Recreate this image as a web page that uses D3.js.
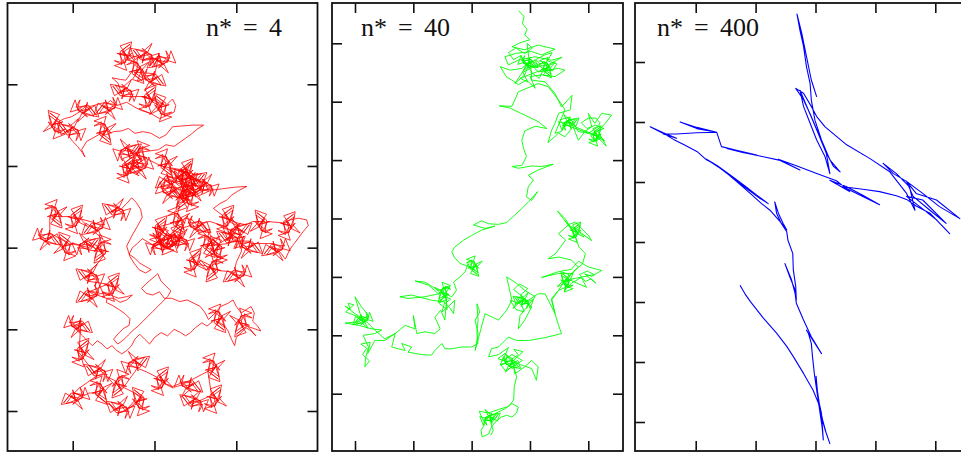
<!DOCTYPE html>
<html><head><meta charset="utf-8">
<script src="https://cdn.jsdelivr.net/npm/d3@7"></script>
<style>body{margin:0;background:#fff}svg{display:block}</style>
</head><body>
<svg id="chart" width="961" height="452"></svg>
<script>
// ---- data ----
const labelSymbol = "n*";
const labelValues = ["4", "40", "400"];
const lineColors = ["#ff0000", "#00ff00", "#0000ff"];
const xTicks1 = [100, 200, 300];
const yTicks1 = [100, 200, 300, 400, 500];
const xTicks2 = [100, 200, 300, 400, 500];
const yTicks2 = [100, 200, 300, 400, 500, 600, 700];
const xTicks3 = [100, 200, 300, 400, 500];
const yTicks3 = [100, 200, 300, 400, 500, 600, 700];

// trajectory n* = 4 (red)
const walkRed = [
[160,62],[171,54],[166,68],[178,74],[169,64],[172,48],[158,53],[166,65],[154,62],[168,66],[163,74],[172,62],[162,70],[166,83],[151,77],[165,73],[162,59],[168,68],[160,59],[170,51],[158,60],[160,76],[151,71],[162,74],[157,62],
[185,68],[177,57],[191,62],[197,50],[187,59],[171,56],[176,70],[188,62],[185,74],[189,60],[197,65],[185,56],[193,66],[206,62],[200,77],[196,63],[182,66],[191,60],[182,68],[174,58],[183,70],[199,68],[194,77],[197,66],[185,71],
[205,68],[197,79],[211,74],[217,86],[207,77],[191,80],[196,66],[208,74],[205,62],[209,76],[217,71],[205,80],[213,70],[226,74],[220,59],[216,73],[202,70],[211,76],[202,68],[194,78],[203,66],[219,68],[214,59],[217,70],[205,65],
[200,90],[208,101],[194,96],[188,108],[198,99],[214,102],[209,88],[197,96],[200,84],[196,98],[188,93],[200,102],[192,92],[179,96],[185,81],[189,95],[203,92],[194,98],[203,90],[211,100],[202,88],[186,90],[191,81],[188,92],[200,87],
[175,85],[186,93],[181,79],[193,73],[184,83],[187,99],[173,94],[181,82],[169,85],[183,81],[178,73],[187,85],[177,77],[181,64],[166,70],[180,74],[177,88],[183,79],[175,88],[185,96],[173,87],[175,71],[166,76],[177,73],[172,85],
[165,95],[158,94],[148,92],[155,98],
[160,112],[152,101],[166,106],[172,94],[162,103],[146,100],[151,114],[163,106],[160,118],[164,104],[172,109],[160,100],[168,110],[181,106],[175,121],[171,107],[157,110],[166,104],[157,112],[149,102],[158,114],[174,112],[169,121],[172,110],[160,115],
[190,115],[201,107],[196,121],[208,127],[199,117],[202,101],[188,106],[196,118],[184,115],[198,119],[193,127],[202,115],[192,123],[196,136],[181,130],[195,126],[192,112],[198,121],[190,112],[200,104],[188,113],[190,129],[181,124],[192,127],[187,115],
[212,125],[201,117],[206,131],[194,137],[203,127],[200,111],[214,116],[206,128],[218,125],[204,129],[209,137],[200,125],[210,133],[206,146],[221,140],[207,136],[210,122],[204,131],[212,122],[202,114],[214,123],[212,139],[221,134],[210,137],[215,125],
[222,118],[226,126],[224,134],[216,138],[206,142],[196,136],[184,132],[176,128],[166,122],[154,126],[146,120],
[140,125],[132,136],[146,131],[152,143],[142,134],[126,137],[131,123],[143,131],[140,119],[144,133],[152,128],[140,137],[148,127],[161,131],[155,116],[151,130],[137,127],[146,133],[137,125],[129,135],[138,123],[154,125],[149,116],[152,127],[140,122],
[118,128],[126,139],[112,134],[106,146],[116,137],[132,140],[127,126],[115,134],[118,122],[114,136],[106,131],[118,140],[110,130],[97,134],[103,119],[107,133],[121,130],[112,136],[121,128],[129,138],[120,126],[104,128],[109,119],[106,130],[118,125],
[108,134],[98,140],[90,142],
[82,146],[71,138],[76,152],[64,158],[73,148],[70,132],[84,137],[76,149],[88,146],[74,150],[79,158],[70,146],[80,154],[76,167],[91,161],[77,157],[80,143],[74,152],[82,143],[72,135],[84,144],[82,160],[91,155],[80,158],[85,146],
[95,160],[87,149],[101,154],[107,142],[97,151],[81,148],[86,162],[98,154],[95,166],[99,152],[107,157],[95,148],[103,158],[116,154],[110,169],[106,155],[92,158],[101,152],[92,160],[84,150],[93,162],[109,160],[104,169],[107,158],[95,163],
[100,170],[106,176],[112,184],[115,189],[111,180],[117,170],
[135,160],[146,168],[141,154],[153,148],[144,158],[147,174],[133,169],[141,157],[129,160],[143,156],[138,148],[147,160],[137,152],[141,139],[126,145],[140,149],[137,163],[143,154],[135,163],[145,171],[133,162],[135,146],[126,151],[137,148],[132,160],
[140,162],[150,158],[160,157],[168,154],[176,160],[186,158],[196,160],[206,166],[214,162],[222,152],[234,151],[246,150],[260,150],[252,155],[245,161],[238,166],[231,171],[224,176],[214,174],[205,180],
[170,185],[178,174],[164,179],[158,167],[168,176],[184,173],[179,187],[167,179],[170,191],[166,177],[158,182],[170,173],[162,183],[149,179],[155,194],[159,180],[173,183],[164,177],[173,185],[181,175],[172,187],[156,185],[161,194],[158,183],[170,188],
[178,198],[170,209],[184,204],[190,216],[180,207],[164,210],[169,196],[181,204],[178,192],[182,206],[190,201],[178,210],[186,200],[199,204],[193,189],[189,203],[175,200],[184,206],[175,198],[167,208],[176,196],[192,198],[187,189],[190,200],[178,195],
[163,200],[174,192],[169,206],[181,212],[172,202],[175,186],[161,191],[169,203],[157,200],[171,204],[166,212],[175,200],[165,208],[169,221],[154,215],[168,211],[165,197],[171,206],[163,197],[173,189],[161,198],[163,214],[154,209],[165,212],[160,200],
[185,190],[174,198],[179,184],[167,178],[176,188],[173,204],[187,199],[179,187],[191,190],[177,186],[182,178],[173,190],[183,182],[179,169],[194,175],[180,179],[183,193],[177,184],[185,193],[175,201],[187,192],[185,176],[194,181],[183,178],[188,190],
[196,194],[204,198],
[210,200],[221,208],[216,194],[228,188],[219,198],[222,214],[208,209],[216,197],[204,200],[218,196],[213,188],[222,200],[212,192],[216,179],[201,185],[215,189],[212,203],[218,194],[210,203],[220,211],[208,202],[210,186],[201,191],[212,188],[207,200],
[235,205],[246,197],[241,211],[253,217],[244,207],[247,191],[233,196],[241,208],[229,205],[243,209],[238,217],[247,205],[237,213],[241,226],[226,220],[240,216],[237,202],[243,211],[235,202],[245,194],[233,203],[235,219],[226,214],[237,217],[232,205],
[250,220],[258,209],[244,214],[238,202],[248,211],[264,208],[259,222],[247,214],[250,226],[246,212],[238,217],[250,208],[242,218],[229,214],[235,229],[239,215],[253,218],[244,212],[253,220],[261,210],[252,222],[236,220],[241,229],[238,218],[250,223],
[222,228],[230,239],[216,234],[210,246],[220,237],[236,240],[231,226],[219,234],[222,222],[218,236],[210,231],[222,240],[214,230],[201,234],[207,219],[211,233],[225,230],[216,236],[225,228],[233,238],[224,226],[208,228],[213,219],[210,230],[222,225],
[245,235],[234,227],[239,241],[227,247],[236,237],[233,221],[247,226],[239,238],[251,235],[237,239],[242,247],[233,235],[243,243],[239,256],[254,250],[240,246],[243,232],[237,241],[245,232],[235,224],[247,233],[245,249],[254,244],[243,247],[248,235],
[258,228],[250,217],[264,222],[270,210],[260,219],[244,216],[249,230],[261,222],[258,234],[262,220],[270,225],[258,216],[266,226],[279,222],[273,237],[269,223],[255,226],[264,220],[255,228],[247,218],[256,230],[272,228],[267,237],[270,226],[258,231],
[250,236],[240,230],[230,224],[222,218],
[215,215],[207,226],[221,221],[227,233],[217,224],[201,227],[206,213],[218,221],[215,209],[219,223],[227,218],[215,227],[223,217],[236,221],[230,206],[226,220],[212,217],[221,223],[212,215],[204,225],[213,213],[229,215],[224,206],[227,217],[215,212],
[222,222],[232,232],
[238,242],[227,250],[232,236],[220,230],[229,240],[226,256],[240,251],[232,239],[244,242],[230,238],[235,230],[226,242],[236,234],[232,221],[247,227],[233,231],[236,245],[230,236],[238,245],[228,253],[240,244],[238,228],[247,233],[236,230],[241,242],
[232,215],[224,204],[238,209],[244,197],[234,206],[218,203],[223,217],[235,209],[232,221],[236,207],[244,212],[232,203],[240,213],[253,209],[247,224],[243,210],[229,213],[238,207],[229,215],[221,205],[230,217],[246,215],[241,224],[244,213],[232,218],
[245,225],[237,236],[251,231],[257,243],[247,234],[231,237],[236,223],[248,231],[245,219],[249,233],[257,228],[245,237],[253,227],[266,231],[260,216],[256,230],[242,227],[251,233],[242,225],[234,235],[243,223],[259,225],[254,216],[257,227],[245,222],
[250,238],[260,234],[268,230],[282,228],[298,226],[313,225],[303,230],[294,236],[288,242],[280,246],[272,252],
[285,262],[296,254],[291,268],[303,274],[294,264],[297,248],[283,253],[291,265],[279,262],[293,266],[288,274],[297,262],[287,270],[291,283],[276,277],[290,273],[287,259],[293,268],[285,259],[295,251],[283,260],[285,276],[276,271],[287,274],[282,262],
[292,266],[302,270],[312,272],[320,268],
[335,268],[324,260],[329,274],[317,280],[326,270],[323,254],[337,259],[329,271],[341,268],[327,272],[332,280],[323,268],[333,276],[329,289],[344,283],[330,279],[333,265],[327,274],[335,265],[325,257],[337,266],[335,282],[344,277],[333,280],[338,268],
[360,270],[371,262],[366,276],[378,282],[369,272],[372,256],[358,261],[366,273],[354,270],[368,274],[363,282],[372,270],[362,278],[366,291],[351,285],[365,281],[362,267],[368,276],[360,267],[370,259],[358,268],[360,284],[351,279],[362,282],[357,270],
[366,266],[376,264],[386,266],[388,273],[382,280],[376,288],[370,296],[365,303],[360,314],[354,306],
[345,298],[337,309],[351,304],[357,316],[347,307],[331,310],[336,296],[348,304],[345,292],[349,306],[357,301],[345,310],[353,300],[366,304],[360,289],[356,303],[342,300],[351,306],[342,298],[334,308],[343,296],[359,298],[354,289],[357,300],[345,295],
[318,295],[326,306],[312,301],[306,313],[316,304],[332,307],[327,293],[315,301],[318,289],[314,303],[306,298],[318,307],[310,297],[297,301],[303,286],[307,300],[321,297],[312,303],[321,295],[329,305],[320,293],[304,295],[309,286],[306,297],[318,292],
[290,292],[282,281],[296,286],[302,274],[292,283],[276,280],[281,294],[293,286],[290,298],[294,284],[302,289],[290,280],[298,290],[311,286],[305,301],[301,287],[287,290],[296,284],[287,292],[279,282],[288,294],[304,292],[299,301],[302,290],[290,295],
[262,298],[273,306],[268,292],[280,286],[271,296],[274,312],[260,307],[268,295],[256,298],[270,294],[265,286],[274,298],[264,290],[268,277],[253,283],[267,287],[264,301],[270,292],[262,301],[272,309],[260,300],[262,284],[253,289],[264,286],[259,298],
[245,315],[256,307],[251,321],[263,327],[254,317],[257,301],[243,306],[251,318],[239,315],[253,319],[248,327],[257,315],[247,323],[251,336],[236,330],[250,326],[247,312],[253,321],[245,312],[255,304],[243,313],[245,329],[236,324],[247,327],[242,315],
[250,320],[262,322],
[275,328],[264,336],[269,322],[257,316],[266,326],[263,342],[277,337],[269,325],[281,328],[267,324],[272,316],[263,328],[273,320],[269,307],[284,313],[270,317],[273,331],[267,322],[275,331],[265,339],[277,330],[275,314],[284,319],[273,316],[278,328],
[298,330],[290,341],[304,336],[310,348],[300,339],[284,342],[289,328],[301,336],[298,324],[302,338],[310,333],[298,342],[306,332],[319,336],[313,321],[309,335],[295,332],[304,338],[295,330],[287,340],[296,328],[312,330],[307,321],[310,332],[298,327],
[300,318],[306,305],[308,292],
[305,282],[313,271],[299,276],[293,264],[303,273],[319,270],[314,284],[302,276],[305,288],[301,274],[293,279],[305,270],[297,280],[284,276],[290,291],[294,277],[308,280],[299,274],[308,282],[316,272],[307,284],[291,282],[296,291],[293,280],[305,285],
[292,278],[280,272],[268,268],
[255,270],[263,281],[249,276],[243,288],[253,279],[269,282],[264,268],[252,276],[255,264],[251,278],[243,273],[255,282],[247,272],[234,276],[240,261],[244,275],[258,272],[249,278],[258,270],[266,280],[257,268],[241,270],[246,261],[243,272],[255,267],
[280,300],[269,292],[274,306],[262,312],[271,302],[268,286],[282,291],[274,303],[286,300],[272,304],[277,312],[268,300],[278,308],[274,321],[289,315],[275,311],[278,297],[272,306],[280,297],[270,289],[282,298],[280,314],[289,309],[278,312],[283,300],
[262,284],[246,266],[238,264],
[225,270],[236,278],[231,264],[243,258],[234,268],[237,284],[223,279],[231,267],[219,270],[233,266],[228,258],[237,270],[227,262],[231,249],[216,255],[230,259],[227,273],[233,264],[225,273],[235,281],[223,272],[225,256],[216,261],[227,258],[222,270],
[203,275],[214,267],[209,281],[221,287],[212,277],[215,261],[201,266],[209,278],[197,275],[211,279],[206,287],[215,275],[205,283],[209,296],[194,290],[208,286],[205,272],[211,281],[203,272],[213,264],[201,273],[203,289],[194,284],[205,287],[200,275],
[210,300],[218,289],[204,294],[198,282],[208,291],[224,288],[219,302],[207,294],[210,306],[206,292],[198,297],[210,288],[202,298],[189,294],[195,309],[199,295],[213,298],[204,292],[213,300],[221,290],[212,302],[196,300],[201,309],[198,298],[210,303],
[228,295],[220,284],[234,289],[240,277],[230,286],[214,283],[219,297],[231,289],[228,301],[232,287],[240,292],[228,283],[236,293],[249,289],[243,304],[239,290],[225,293],[234,287],[225,295],[217,285],[226,297],[242,295],[237,304],[240,293],[228,298],
[215,288],[204,280],[209,294],[197,300],[206,290],[203,274],[217,279],[209,291],[221,288],[207,292],[212,300],[203,288],[213,296],[209,309],[224,303],[210,299],[213,285],[207,294],[215,285],[205,277],[217,286],[215,302],[224,297],[213,300],[218,288],
[222,285],[233,277],[228,291],[240,297],[231,287],[234,271],[220,276],[228,288],[216,285],[230,289],[225,297],[234,285],[224,293],[228,306],[213,300],[227,296],[224,282],[230,291],[222,282],[232,274],[220,283],[222,299],[213,294],[224,297],[219,285],
[210,294],[200,298],[192,293],[185,289],[179,295],[173,300],[169,308],[176,313],[182,319],[189,323],[196,327],[189,331],[181,327],[175,319],[170,311],[166,298],[172,286],[179,274],[185,263],[183,253],[178,245],[172,239],[166,246],[160,252],
[150,258],[142,247],[156,252],[162,240],[152,249],[136,246],[141,260],[153,252],[150,264],[154,250],[162,255],[150,246],[158,256],[171,252],[165,267],[161,253],[147,256],[156,250],[147,258],[139,248],[148,260],[164,258],[159,267],[162,256],[150,261],
[125,272],[117,283],[131,278],[137,290],[127,281],[111,284],[116,270],[128,278],[125,266],[129,280],[137,275],[125,284],[133,274],[146,278],[140,263],[136,277],[122,274],[131,280],[122,272],[114,282],[123,270],[139,272],[134,263],[137,274],[125,269],
[100,262],[111,254],[106,268],[118,274],[109,264],[112,248],[98,253],[106,265],[94,262],[108,266],[103,274],[112,262],[102,270],[106,283],[91,277],[105,273],[102,259],[108,268],[100,259],[110,251],[98,260],[100,276],[91,271],[102,274],[97,262],
[75,262],[86,270],[81,256],[93,250],[84,260],[87,276],[73,271],[81,259],[69,262],[83,258],[78,250],[87,262],[77,254],[81,241],[66,247],[80,251],[77,265],[83,256],[75,265],[85,273],[73,264],[75,248],[66,253],[77,250],[72,262],
[72,285],[80,296],[66,291],[60,303],[70,294],[86,297],[81,283],[69,291],[72,279],[68,293],[60,288],[72,297],[64,287],[51,291],[57,276],[61,290],[75,287],[66,293],[75,285],[83,295],[74,283],[58,285],[63,276],[60,287],[72,282],
[95,295],[84,287],[89,301],[77,307],[86,297],[83,281],[97,286],[89,298],[101,295],[87,299],[92,307],[83,295],[93,303],[89,316],[104,310],[90,306],[93,292],[87,301],[95,292],[85,284],[97,293],[95,309],[104,304],[93,307],[98,295],
[120,300],[128,289],[114,294],[108,282],[118,291],[134,288],[129,302],[117,294],[120,306],[116,292],[108,297],[120,288],[112,298],[99,294],[105,309],[109,295],[123,298],[114,292],[123,300],[131,290],[122,302],[106,300],[111,309],[108,298],[120,303],
[138,305],[127,313],[132,299],[120,293],[129,303],[126,319],[140,314],[132,302],[144,305],[130,301],[135,293],[126,305],[136,297],[132,284],[147,290],[133,294],[136,308],[130,299],[138,308],[128,316],[140,307],[138,291],[147,296],[136,293],[141,305],
[136,312],[130,320],[124,326],
[118,338],[110,327],[124,332],[130,320],[120,329],[104,326],[109,340],[121,332],[118,344],[122,330],[130,335],[118,326],[126,336],[139,332],[133,347],[129,333],[115,336],[124,330],[115,338],[107,328],[116,340],[132,338],[127,347],[130,336],[118,341],
[145,345],[156,337],[151,351],[163,357],[154,347],[157,331],[143,336],[151,348],[139,345],[153,349],[148,357],[157,345],[147,353],[151,366],[136,360],[150,356],[147,342],[153,351],[145,342],[155,334],[143,343],[145,359],[136,354],[147,357],[142,345],
[118,355],[110,366],[124,361],[130,373],[120,364],[104,367],[109,353],[121,361],[118,349],[122,363],[130,358],[118,367],[126,357],[139,361],[133,346],[129,360],[115,357],[124,363],[115,355],[107,365],[116,353],[132,355],[127,346],[130,357],[118,352],
[126,358],[136,356],[146,358],[156,362],[166,360],[173,358],[166,364],[158,367],[150,362],[142,362],[141,367],[149,371],[157,376],[164,381],[170,387],[169,395],[162,399],[156,405],[150,412],[155,418],[162,413],[168,407],[174,401],
[180,396],[186,390],[192,384],[198,378],[204,372],[210,366],[216,360],[220,353],[214,347],[208,341],[204,332],[197,338],[190,344],[184,350],[190,356],[198,358],[206,354],[212,362],[221,362],[231,366],[240,364],[248,368],[256,372],[262,380],[266,388],[270,384],[276,378],[281,372],[290,368],[296,364],[300,372],[306,380],[312,376],[318,372],[322,380],[320,390],[326,396],[330,402],
[310,395],[299,403],[304,389],[292,383],[301,393],[298,409],[312,404],[304,392],[316,395],[302,391],[307,383],[298,395],[308,387],[304,374],[319,380],[305,384],[308,398],[302,389],[310,398],[300,406],[312,397],[310,381],[319,386],[308,383],[313,395],
[324,408],[318,402],[312,398],[306,404],[300,410],[298,420],[294,412],[290,402],[286,396],[280,392],
[275,390],[286,398],[281,384],[293,378],[284,388],[287,404],[273,399],[281,387],[269,390],[283,386],[278,378],[287,390],[277,382],[281,369],[266,375],[280,379],[277,393],[283,384],[275,393],[285,401],[273,392],[275,376],[266,381],[277,378],[272,390],
[264,396],[258,392],[250,398],[244,404],[238,408],[232,404],
[224,400],[216,408],[208,404],[200,410],[194,418],[188,412],[182,406],[176,412],[172,420],[166,426],[160,430],[154,426],[148,420],[142,424],[136,418],[130,414],[124,420],[118,414],[112,408],[106,402],[100,396],
[110,392],[118,403],[104,398],[98,410],[108,401],[124,404],[119,390],[107,398],[110,386],[106,400],[98,395],[110,404],[102,394],[89,398],[95,383],[99,397],[113,394],[104,400],[113,392],[121,402],[112,390],[96,392],[101,383],[98,394],[110,389],
[108,425],[119,417],[114,431],[126,437],[117,427],[120,411],[106,416],[114,428],[102,425],[116,429],[111,437],[120,425],[110,433],[114,446],[99,440],[113,436],[110,422],[116,431],[108,422],[118,414],[106,423],[108,439],[99,434],[110,437],[105,425],
[128,455],[120,444],[134,449],[140,437],[130,446],[114,443],[119,457],[131,449],[128,461],[132,447],[140,452],[128,443],[136,453],[149,449],[143,464],[139,450],[125,453],[134,447],[125,455],[117,445],[126,457],[142,455],[137,464],[140,453],[128,458],
[118,465],[108,472],
[100,480],[92,491],[106,486],[112,498],[102,489],[86,492],[91,478],[103,486],[100,474],[104,488],[112,483],[100,492],[108,482],[121,486],[115,471],[111,485],[97,482],[106,488],[97,480],[89,490],[98,478],[114,480],[109,471],[112,482],[100,477],
[112,482],[120,478],
[130,478],[141,486],[136,472],[148,466],[139,476],[142,492],[128,487],[136,475],[124,478],[138,474],[133,466],[142,478],[132,470],[136,457],[121,463],[135,467],[132,481],[138,472],[130,481],[140,489],[128,480],[130,464],[121,469],[132,466],[127,478],
[138,488],[148,494],
[155,500],[147,489],[161,494],[167,482],[157,491],[141,488],[146,502],[158,494],[155,506],[159,492],[167,497],[155,488],[163,498],[176,494],[170,509],[166,495],[152,498],[161,492],[152,500],[144,490],[153,502],[169,500],[164,509],[167,498],[155,503],
[168,498],[176,490],
[185,485],[174,477],[179,491],[167,497],[176,487],[173,471],[187,476],[179,488],[191,485],[177,489],[182,497],[173,485],[183,493],[179,506],[194,500],[180,496],[183,482],[177,491],[185,482],[175,474],[187,483],[185,499],[194,494],[183,497],[188,485],
[176,478],[168,474],
[160,470],[149,478],[154,464],[142,458],[151,468],[148,484],[162,479],[154,467],[166,470],[152,466],[157,458],[148,470],[158,462],[154,449],[169,455],[155,459],[158,473],[152,464],[160,473],[150,481],[162,472],[160,456],[169,461],[158,458],[163,470],
[170,460],[176,452],
[180,445],[188,434],[174,439],[168,427],[178,436],[194,433],[189,447],[177,439],[180,451],[176,437],[168,442],[180,433],[172,443],[159,439],[165,454],[169,440],[183,443],[174,437],[183,445],[191,435],[182,447],[166,445],[171,454],[168,443],[180,448],
[190,452],[198,456],
[205,460],[216,452],[211,466],[223,472],[214,462],[217,446],[203,451],[211,463],[199,460],[213,464],[208,472],[217,460],[207,468],[211,481],[196,475],[210,471],[207,457],[213,466],[205,457],[215,449],[203,458],[205,474],[196,469],[207,472],[202,460],
[212,466],[222,470],[232,466],
[245,465],[253,476],[239,471],[233,483],[243,474],[259,477],[254,463],[242,471],[245,459],[241,473],[233,468],[245,477],[237,467],[224,471],[230,456],[234,470],[248,467],[239,473],[248,465],[256,475],[247,463],[231,465],[236,456],[233,467],[245,462],
[268,450],[279,458],[274,444],[286,438],[277,448],[280,464],[266,459],[274,447],[262,450],[276,446],[271,438],[280,450],[270,442],[274,429],[259,435],[273,439],[270,453],[276,444],[268,453],[278,461],[266,452],[268,436],[259,441],[270,438],[265,450],
[270,482],[281,474],[276,488],[288,494],[279,484],[282,468],[268,473],[276,485],[264,482],[278,486],[273,494],[282,482],[272,490],[276,503],[261,497],[275,493],[272,479],[278,488],[270,479],[280,471],[268,480],[270,496],[261,491],[272,494],[267,482],
[245,492],[237,481],[251,486],[257,474],[247,483],[231,480],[236,494],[248,486],[245,498],[249,484],[257,489],[245,480],[253,490],[266,486],[260,501],[256,487],[242,490],[251,484],[242,492],[234,482],[243,494],[259,492],[254,501],[257,490],[245,495]
];

// trajectory n* = 40 (green)
const walkGreen = [
[380,44],[390,54],[387,66],[395,76],[391,86],[400,94],[383,99],[369,106],[391,111],[414,103],[443,110],[420,120],[403,114],[377,117],[357,123],[363,137],[380,129],[409,123],[437,129],[455,124],[431,137],[409,140],[397,131],[414,149],[449,143],[460,146],[443,157],[420,154],[400,157],[409,177],[394,163],[380,171],[369,163],[360,158],[349,140],[366,146],[386,143],[400,131],[391,154],[374,169],
[400,130],[408,141],[394,136],[388,148],[398,139],[414,142],[409,128],[397,136],[400,124],[396,138],[388,133],[400,142],[392,132],[379,136],[385,121],[389,135],[403,132],[394,138],[403,130],[411,140],[402,128],[386,130],[391,121],[388,132],[400,127],
[425,145],[436,153],[431,139],[443,133],[434,143],[437,159],[423,154],[431,142],[419,145],[433,141],[428,133],[437,145],[427,137],[431,124],[416,130],[430,134],[427,148],[433,139],[425,148],[435,156],[423,147],[425,131],[416,136],[427,133],[422,145],
[383,160],[396,166],[388,150],[402,142],[418,136],[410,128],[425,120],[438,116],[430,130],[446,135],[439,147],[423,145],[416,160],[405,152],[395,138],[384,121],[372,128],[363,116],[376,108],[391,118],[404,108],[395,100],[398,125],[402,145],
[403,163],[426,166],[443,186],[454,209],[472,189],[469,214],[449,220],[443,237],[437,249],[431,270],[449,254],[460,260],[474,243],[483,266],[494,251],[506,243],[500,220],[511,237],[523,220],[540,223],[529,237],[517,251],[531,276],
[510,255],[521,247],[516,261],[528,267],[519,257],[522,241],[508,246],[516,258],[504,255],[518,259],[513,267],[522,255],[512,263],[516,276],[501,270],[515,266],[512,252],[518,261],[510,252],[520,244],[508,253],[510,269],[501,264],[512,267],[507,255],
[470,240],[478,229],[464,234],[458,222],[468,231],[484,228],[479,242],[467,234],[470,246],[466,232],[458,237],[470,228],[462,238],[449,234],[455,249],[459,235],[473,238],[464,232],[473,240],[481,230],[472,242],[456,240],[461,249],[458,238],[470,243],
[522,262],[512,268],[504,258],[516,250],[527,246],[512,240],[498,246],[488,236],[500,228],[513,228],[520,236],[517,243],[500,254],[483,251],[471,231],[460,243],[451,231],[469,226],[454,251],[443,254],[460,214],[449,197],[431,174],[414,169],
[380,183],[374,197],[369,208],[347,207],[366,211],[391,223],[414,234],[429,246],[409,242],[391,250],[386,266],[389,280],[394,294],
[386,309],[369,311],[380,314],[403,310],[420,311],[440,307],[414,317],[397,326],[406,334],[397,346],[394,363],[403,369],[413,354],[398,371],[386,383],[374,394],[360,407],[346,410],[329,409],[317,404],[303,411],[323,417],[340,413],[317,420],[300,429],[286,437],[271,449],[266,457],[270,466],[280,477],[289,480],[297,483],[306,489],
[300,485],[311,493],[306,479],[318,473],[309,483],[312,499],[298,494],[306,482],[294,485],[308,481],[303,473],[312,485],[302,477],[306,464],[291,470],[305,474],[302,488],[308,479],[300,488],[310,496],[298,487],[300,471],[291,476],[302,473],[297,485],
[294,477],[289,491],
[280,500],[269,509],[274,523],[266,534],[254,529],[263,517],[243,523],[220,509],[203,507],[226,514],[243,529],[220,534],[191,537],[177,534],[197,531],[231,540],[254,543],[249,560],[260,551],[271,540],[269,563],[262,552],[255,545],[264,538],[252,533],[245,546],[258,556],
[255,530],[244,538],[249,524],[237,518],[246,528],[243,544],[257,539],[249,527],[261,530],[247,526],[252,518],[243,530],[253,522],[249,509],[264,515],[250,519],[253,533],[247,524],[255,533],[245,541],[257,532],[255,516],[264,521],[253,518],[258,530],
[254,574],[247,557],[237,569],[246,589],[237,597],[220,594],[206,597],[200,566],[203,589],[186,583],[169,597],[151,606],
[134,591],[117,574],[100,563],[83,550],[92,556],[88,545],[98,548],[84,560],
[110,570],[102,581],[116,576],[122,588],[112,579],[96,582],[101,568],[113,576],[110,564],[114,578],[122,573],[110,582],[118,572],[131,576],[125,561],[121,575],[107,572],[116,578],[107,570],[99,580],[108,568],[124,570],[119,561],[122,572],[110,567],
[100,534],[111,551],[123,566],[106,577],[83,579],[106,583],[129,589],[146,591],[134,597],[114,600],[123,620],[118,640],[117,654],[125,644],[113,633],[120,622],[110,615],[126,612],[122,631],[134,609],[151,609],[169,597],[163,620],[174,623],[186,626],[180,614],[197,620],[191,629],[203,631],[214,633],[231,634],[237,626],[249,614],[254,623],[266,623],[283,620],[300,620],[311,614],[309,597],[311,574],[309,546],[314,560],[306,574],[311,597],[306,626],
[323,563],[346,574],[360,557],[369,540],[360,500],[377,511],[391,523],[409,534],[397,549],[383,566],[380,589],[391,574],[403,551],[386,540],[371,554],[386,529],[396,520],[382,512],[372,522],[388,534],[380,545],[366,540],[376,556],[390,560],
[385,545],[377,534],[391,539],[397,527],[387,536],[371,533],[376,547],[388,539],[385,551],[389,537],[397,542],[385,533],[393,543],[406,539],[400,554],[396,540],[382,543],[391,537],[382,545],[374,535],[383,547],[399,545],[394,554],[397,543],[385,548],
[414,529],[426,529],[443,563],[437,537],[449,523],[463,517],[474,494],[449,494],[420,501],[449,491],[471,487],[483,473],[500,483],[523,489],[506,499],[494,495],[513,511],[505,503],[495,508],[485,496],[498,490],[510,496],
[465,505],[454,497],[459,511],[447,517],[456,507],[453,491],[467,496],[459,508],[471,505],[457,509],[462,517],[453,505],[463,513],[459,526],[474,520],[460,516],[463,502],[457,511],[465,502],[455,494],[467,503],[465,519],[474,514],[463,517],[468,505],
[497,518],[488,501],[471,511],[459,524],[467,500],[483,483],[471,471],[449,466],[431,469],[444,460],[461,437],[449,426],[467,410],[478,406],[501,430],[506,438],[489,426],[482,419],[470,414],[459,403],
[475,420],[486,412],[481,426],[493,432],[484,422],[487,406],[473,411],[481,423],[469,420],[483,424],[478,432],[487,420],[477,428],[481,441],[466,435],[480,431],[477,417],[483,426],[475,417],[485,409],[473,418],[475,434],[466,429],[477,432],[472,420],
[447,387],[461,401],[476,426],[484,449],[495,460],[490,478],[474,491],[460,506],[449,523],[437,540],[443,563],
[449,583],[454,597],[426,604],[397,609],[377,609],[363,603],[346,620],[334,623],[329,637],[346,633],[363,621],[353,644],[369,633],[387,643],[370,654],[358,661],[350,650],[362,645],[345,640],[356,632],[370,640],[380,633],[372,624],[388,628],
[370,645],[378,656],[364,651],[358,663],[368,654],[384,657],[379,643],[367,651],[370,639],[366,653],[358,648],[370,657],[362,647],[349,651],[355,636],[359,650],[373,647],[364,653],[373,645],[381,655],[372,643],[356,645],[361,636],[358,647],[370,642],
[374,666],[391,654],[403,643],[414,654],[411,677],[403,657],[383,650],[366,640],[357,631],[371,648],[377,671],[373,689],[372,711],
[363,722],[346,727],[329,733],[313,730],[317,740],[323,751],[316,763],[318,774],[329,769],[334,757],[340,749],[351,740],[360,737],[369,740],[377,733],[380,723],[369,717],[357,726],[340,734],
[335,745],[343,734],[329,739],[323,727],[333,736],[349,733],[344,747],[332,739],[335,751],[331,737],[323,742],[335,733],[327,743],[314,739],[320,754],[324,740],[338,743],[329,737],[338,745],[346,735],[337,747],[321,745],[326,754],[323,743],[335,748],
[331,743],[337,763],[333,771]
];

// trajectory n* = 400 (blue)
const walkBlue = [
[174,472],[182,486],[191,499],[213,527],[235,552],[252,574],[263,591],[280,619],[296,647],[305,669],[310,691],[316,713],[324,736],
[318,719],[312,697],[307,674],[303,647],[301,624],[304,658],[310,686],[313,730],[311,708],[306,674],[302,647],[298,619],[295,591],[293,569],[288,552],[285,547],[310,586],[293,558],[280,530],[268,502],[266,486],[260,463],[249,436],[257,458],[266,480],[268,497],[267,474],[263,447],[262,419],[254,397],[252,383],[243,369],[235,352],[232,333],[238,352],[246,369],[252,380],[241,366],[224,347],[210,336],[191,319],[168,299],[146,280],[130,269],[118,262],[141,277],[163,294],[185,311],[207,327],[221,336],[202,322],[180,305],[157,288],[135,272],[118,263],[102,249],[79,237],[63,229],[46,219],[24,208],[46,218],[68,227],[46,220],[68,220],[102,218],[135,217],[102,211],[74,200],[102,209],[135,217],[143,241],
[168,247],[202,255],[180,251],[152,244],[185,252],[213,258],[241,264],[274,280],[238,262],[268,273],[302,286],[335,298],[357,316],[324,297],[352,308],[379,322],[407,338],[379,324],[346,308],[379,312],[407,316],[435,323],[452,329],[468,340],[491,352],[524,386],[502,363],[474,341],[452,324],[479,330],[518,369],[491,347],[463,324],[452,299],[468,319],[502,330],[541,361],[507,341],[479,319],[452,299],[430,286],[413,269],[435,286],[457,308],[466,347],[452,319],[424,283],[391,261],[352,238],[316,208],[302,191],[293,174],[280,152],[267,144],[280,163],[293,191],[307,224],[318,252],[324,286],[316,258],[302,230],[291,202],[280,174],[274,147],[288,180],[302,213],[316,247],[330,274],[341,283],[324,263],[310,230],[299,197],[293,163],[291,136],[285,108],[280,74],[274,47],[269,20],[277,52],[285,91],[293,130],[302,158]
];

// ---- layout ----
const panels = [
  {walk: walkRed,   xt: xTicks1, yt: yTicks1, box: [7.5, 317.5, 3, 451], xr: [72.7, 236.3], yr: [84.3, 411.0], lx: 206, sw: 0.8},
  {walk: walkGreen, xt: xTicks2, yt: yTicks2, box: [332, 623, 3, 451], xr: [355.0, 588.3], yr: [43.3, 393.7], lx: 361, sw: 0.9},
  {walk: walkBlue,  xt: xTicks3, yt: yTicks3, box: [635, 1000, 3, 451], xr: [695.7, 935.3], yr: [62.0, 422.0], lx: 657, sw: 1.1}
];

const svg = d3.select("#chart");
const defs = svg.append("defs");

panels.forEach((p, i) => {
  const [L, R, T, B] = p.box;
  const x = d3.scaleLinear().domain([p.xt[0], p.xt[p.xt.length - 1]]).range(p.xr);
  const y = d3.scaleLinear().domain([p.yt[0], p.yt[p.yt.length - 1]]).range(p.yr);
  const g = svg.append("g");

  defs.append("clipPath").attr("id", "clip" + i)
    .append("rect").attr("x", L).attr("y", T).attr("width", R - L).attr("height", B - T);

  const line = d3.line().x(d => x(d[0])).y(d => y(d[1]));
  g.append("path").datum(p.walk)
    .attr("clip-path", `url(#clip${i})`)
    .attr("d", line)
    .attr("fill", "none")
    .attr("stroke", lineColors[i])
    .attr("stroke-width", p.sw)
    .attr("stroke-linejoin", "round");

  const tick = 10;
  const axes = [
    [d3.axisBottom(x).tickValues(p.xt), `translate(0,${B})`],
    [d3.axisTop(x).tickValues(p.xt), `translate(0,${T})`],
    [d3.axisLeft(y).tickValues(p.yt), `translate(${L},0)`],
    [d3.axisRight(y).tickValues(p.yt), `translate(${R},0)`]
  ];
  axes.forEach(([ax, tr]) => {
    const a = g.append("g").attr("transform", tr)
      .call(ax.tickSize(-tick).tickFormat(""));
    a.select(".domain").remove();
    a.selectAll(".tick line").attr("stroke", "#111").attr("stroke-width", 1.6);
  });

  g.append("rect").attr("x", L).attr("y", T).attr("width", R - L).attr("height", B - T)
    .attr("fill", "none").attr("stroke", "#111").attr("stroke-width", 1.8);

  const t = g.append("text")
    .attr("y", 35.5)
    .attr("font-family", "'Liberation Serif', 'Times New Roman', Times, serif")
    .attr("font-size", 26)
    .attr("fill", "#111");
  t.append("tspan").attr("x", p.lx).text(labelSymbol);
  t.append("tspan").attr("x", p.lx + 37).text("=");
  t.append("tspan").attr("x", p.lx + 63).text(labelValues[i]);
});
</script>
</body></html>
